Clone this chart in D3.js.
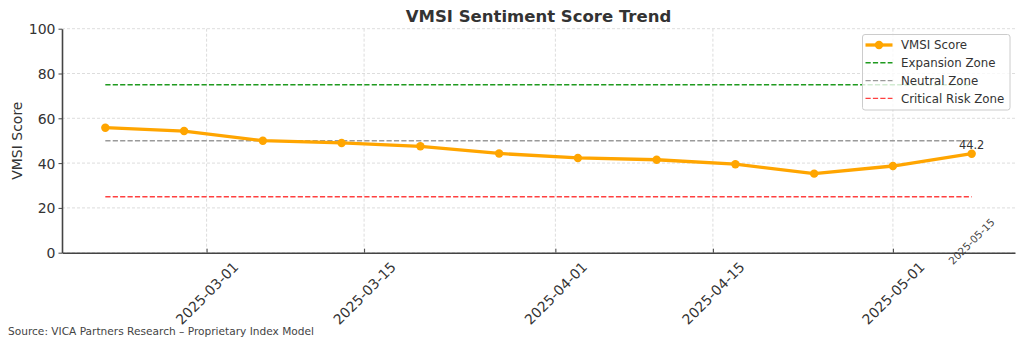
<!DOCTYPE html>
<html>
<head>
<meta charset="utf-8">
<script src="https://cdn.jsdelivr.net/npm/d3@7"></script>
<style>
  body { margin: 0; background: #fff; }
  svg { display: block; }
  text { font-family: "DejaVu Sans", Verdana, sans-serif; }
</style>
</head>
<body>
<svg id="chart" width="1024" height="346"></svg>
<script>
// Weekly VMSI readings
const dates = ["2025-02-20", "2025-02-27", "2025-03-06", "2025-03-13", "2025-03-20", "2025-03-27",
               "2025-04-03", "2025-04-10", "2025-04-17", "2025-04-24", "2025-05-01", "2025-05-08"];
const scores = [55.8, 54.3, 50.0, 49.0, 47.5, 44.3, 42.3, 41.5, 39.5, 35.3, 38.7, 44.2];

// Reference zones
const zoneNames = ["Expansion Zone", "Neutral Zone", "Critical Risk Zone"];
const zoneLevels = [75, 50, 25];
const zoneColors = ["#1f9a1f", "#9a9a9a", "#ff4040"];

// Axis ticks
const yTicks = [0, 20, 40, 60, 80, 100];
const xTickDates = ["2025-03-01", "2025-03-15", "2025-04-01", "2025-04-15", "2025-05-01"];
const lastDateLabel = "2025-05-15";
const lastDateLabelLevel = 5;

const parse = d3.utcParse("%Y-%m-%d");
const fmt = d3.utcFormat("%Y-%m-%d");
const points = dates.map((d, i) => ({ date: parse(d), value: scores[i] }));

const svg = d3.select("#chart");
const plotLeft = 62, plotRight = 1015, plotTop = 28.7, plotBottom = 252.7;

const [t0, t1] = d3.extent(points, d => d.date);
const pad = (t1 - t0) * 0.05;
const x = d3.scaleUtc().domain([new Date(+t0 - pad), new Date(+t1 + pad)]).range([plotLeft, plotRight]);
const y = d3.scaleLinear().domain([0, 100]).range([plotBottom, plotTop]);

// Grid
const grid = svg.append("g").attr("stroke", "#d4d4d4").attr("stroke-width", 0.8)
  .attr("stroke-dasharray", "3,2").attr("fill", "none");
grid.selectAll("line.v").data(xTickDates.map(parse)).join("line").attr("class", "v")
  .attr("x1", d => x(d)).attr("x2", d => x(d)).attr("y1", plotTop).attr("y2", plotBottom);
grid.selectAll("line.h").data(yTicks).join("line").attr("class", "h")
  .attr("x1", plotLeft).attr("x2", plotRight).attr("y1", d => y(d)).attr("y2", d => y(d));

// Zone reference lines spanning the observed dates
svg.append("g").selectAll("line").data(zoneLevels).join("line")
  .attr("x1", x(t0)).attr("x2", x(t1))
  .attr("y1", d => y(d)).attr("y2", d => y(d))
  .attr("stroke", (d, i) => zoneColors[i]).attr("stroke-width", 1.4)
  .attr("stroke-dasharray", "5.2,2.2");

// Score line and markers
const orange = "#FFA500";
svg.append("path").datum(points)
  .attr("fill", "none").attr("stroke", orange).attr("stroke-width", 3.3)
  .attr("stroke-linejoin", "round")
  .attr("d", d3.line().x(d => x(d.date)).y(d => y(d.value)));
svg.append("g").selectAll("circle").data(points).join("circle")
  .attr("cx", d => x(d.date)).attr("cy", d => y(d.value)).attr("r", 4.2).attr("fill", orange);

// Axes
const yAxis = svg.append("g").attr("transform", `translate(${plotLeft},0)`)
  .call(d3.axisLeft(y).tickValues(yTicks).tickSize(3.5).tickSizeOuter(0).tickPadding(3));
const xAxis = svg.append("g").attr("transform", `translate(0,${plotBottom})`)
  .call(d3.axisBottom(x).tickValues(xTickDates.map(parse)).tickSize(-4).tickSizeOuter(0).tickFormat(fmt));

[yAxis, xAxis].forEach(a => {
  a.select(".domain").attr("stroke", "#444").attr("stroke-width", 1.6);
  a.selectAll(".tick line").attr("stroke", "#444").attr("stroke-width", 1);
  a.selectAll(".tick text").attr("fill", "#333").attr("font-size", 14)
    .attr("font-family", "DejaVu Sans, sans-serif");
});
yAxis.selectAll(".tick text").attr("dy", "0.35em");
xAxis.selectAll(".tick text")
  .attr("y", 0).attr("dy", "0.35em").attr("text-anchor", "middle")
  .attr("transform", "translate(0,40.6) rotate(-45)");

// Value label at the latest reading
const last = points[points.length - 1];
svg.append("text").attr("x", x(last.date)).attr("y", y(last.value) - 4.5)
  .attr("text-anchor", "middle").attr("font-size", 11.4).attr("fill", "#333")
  .text(last.value.toFixed(1));

svg.append("text")
  .attr("transform", `translate(${x(last.date)},${y(lastDateLabelLevel)}) rotate(-45)`)
  .attr("text-anchor", "middle").attr("dy", "0.35em").attr("font-size", 10.3).attr("fill", "#444")
  .text(lastDateLabel);

// Title and axis label
svg.append("text").attr("x", (plotLeft + plotRight) / 2).attr("y", 22)
  .attr("text-anchor", "middle").attr("font-size", 16.5).attr("font-weight", "bold").attr("fill", "#333")
  .text("VMSI Sentiment Score Trend");
svg.append("text").attr("transform", `translate(17.5,${(plotTop + plotBottom) / 2}) rotate(-90)`)
  .attr("text-anchor", "middle").attr("dy", "0.35em").attr("font-size", 14).attr("fill", "#333")
  .text("VMSI Score");

// Legend
const legend = svg.append("g").attr("transform", "translate(862.5,34.5)");
legend.append("rect").attr("width", 147.5).attr("height", 75.5).attr("rx", 2.5)
  .attr("fill", "#fff").attr("fill-opacity", 0.8).attr("stroke", "#ccc").attr("stroke-width", 1);
const entries = [{ name: "VMSI Score", color: orange, main: true }]
  .concat(zoneNames.map((n, i) => ({ name: n, color: zoneColors[i], main: false })));
const rows = legend.selectAll("g").data(entries).join("g")
  .attr("transform", (d, i) => `translate(0,${10.5 + i * 17.8})`);
rows.append("line").attr("x1", 3).attr("x2", 30).attr("y1", 0).attr("y2", 0)
  .attr("stroke", d => d.color).attr("stroke-width", d => d.main ? 3.3 : 1.4)
  .attr("stroke-dasharray", d => d.main ? null : "5.2,2.2");
rows.filter(d => d.main).append("circle").attr("cx", 16.5).attr("cy", 0).attr("r", 4.2).attr("fill", orange);
rows.append("text").attr("x", 38.5).attr("dy", "0.35em").attr("font-size", 11.8).attr("fill", "#333")
  .text(d => d.name);

// Source note
svg.append("text").attr("x", 8).attr("y", 335).attr("font-size", 10.6).attr("fill", "#444")
  .text("Source: VICA Partners Research – Proprietary Index Model");
</script>
</body>
</html>
